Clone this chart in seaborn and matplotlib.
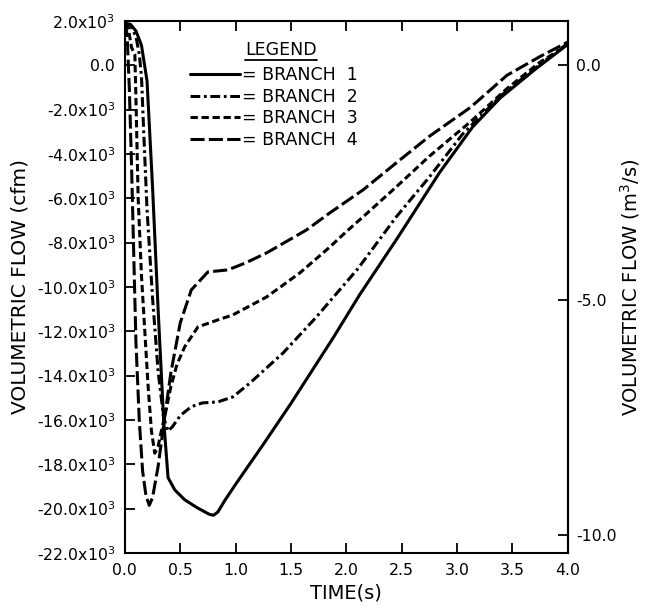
import numpy as np
import pandas as pd
import matplotlib
matplotlib.use("Agg")
import matplotlib.pyplot as plt
import seaborn as sns
from matplotlib.lines import Line2D

# ---------------- data ----------------
time_b1 = [0.0, 0.05, 0.1, 0.15, 0.2, 0.25, 0.3, 0.35, 0.39, 0.45, 0.54, 0.65, 0.76, 0.8,
           0.84, 0.9, 1.0, 1.25, 1.5, 1.88, 2.12, 2.46, 2.84, 3.14, 3.39, 3.7, 4.0]
flow_b1 = [1900, 1850, 1550, 900, -700, -5500, -11000, -16000, -18600, -19150, -19600,
           -19950, -20250, -20300, -20150, -19650, -18900, -17100, -15250, -12300, -10350,
           -7800, -4850, -2780, -1470, -200, 950]

time_b2 = [0.0, 0.05, 0.1, 0.13, 0.15, 0.17, 0.2, 0.25, 0.3, 0.35, 0.39, 0.43, 0.5, 0.6,
           0.7, 0.84, 0.975, 1.13, 1.43, 1.73, 1.85, 2.1, 2.45, 2.75, 3.05, 3.4, 3.7, 4.0]
flow_b2 = [1900, 1800, 1300, 500, -500, -3000, -6500, -10500, -13800, -15900, -16500,
           -16300, -15800, -15400, -15230, -15185, -14960, -14330, -12970, -11350, -10650,
           -9200, -6840, -5036, -3100, -1350, -150, 1000]

time_b3 = [0.0, 0.03, 0.06, 0.09, 0.1, 0.12, 0.15, 0.18, 0.21, 0.24, 0.27, 0.3, 0.325,
           0.37, 0.415, 0.47, 0.54, 0.66, 0.84, 0.975, 1.28, 1.58, 1.85, 2.0, 2.15, 2.45,
           2.75, 3.12, 3.45, 3.75, 4.0]
flow_b3 = [1900, 1700, 800, 500, -1500, -6000, -9500, -12000, -14500, -16500, -17500,
           -17200, -16600, -15600, -14500, -13500, -12700, -11800, -11485, -11260, -10450,
           -9365, -8200, -7500, -6840, -5487, -4100, -2550, -1050, 150, 920]

time_b4 = [0.0, 0.02, 0.04, 0.06, 0.08, 0.1, 0.13, 0.16, 0.19, 0.22, 0.25, 0.3, 0.36,
           0.415, 0.5, 0.6, 0.75, 0.93, 1.09, 1.28, 1.64, 1.85, 2.15, 2.45, 2.75, 3.12,
           3.45, 3.75, 4.0]
flow_b4 = [1900, 1400, -1000, -4500, -8500, -12500, -16000, -18300, -19400, -19850,
           -19500, -18100, -15860, -13875, -11620, -10130, -9320, -9230, -8914, -8463,
           -7426, -6660, -5622, -4404, -3200, -1900, -450, 400, 1050]

branch_labels = ["= BRANCH  1", "= BRANCH  2", "= BRANCH  3", "= BRANCH  4"]
legend_title = "LEGEND"

yticks = [2000, 0, -2000, -4000, -6000, -8000, -10000, -12000, -14000, -16000,
          -18000, -20000, -22000]
ytick_labels = ["2.0x10$^3$", "0.0", "-2.0x10$^3$", "-4.0x10$^3$", "-6.0x10$^3$",
                "-8.0x10$^3$", "-10.0x10$^3$", "-12.0x10$^3$", "-14.0x10$^3$",
                "-16.0x10$^3$", "-18.0x10$^3$", "-20.0x10$^3$", "-22.0x10$^3$"]
xticks = [0.0, 0.5, 1.0, 1.5, 2.0, 2.5, 3.0, 3.5, 4.0]
xtick_labels = ["0.0", "0.5", "1.0", "1.5", "2.0", "2.5", "3.0", "3.5", "4.0"]
right_ticks = [0.0, -5.0, -10.0]
right_tick_labels = ["0.0", "-5.0", "-10.0"]

CFM_TO_M3S = 0.00047194745

# ---------------- style ----------------
sns.set_style("ticks")
plt.rcParams["font.family"] = ["DejaVu Sans"]
plt.rcParams["mathtext.default"] = "regular"
for key in ["text.color", "axes.labelcolor", "xtick.color", "ytick.color",
            "xtick.labelcolor", "ytick.labelcolor", "axes.edgecolor"]:
    plt.rcParams[key] = "black"

fig = plt.figure(figsize=(6.47, 6.08), dpi=100)
ax = fig.add_axes([0.193, 0.0905, 0.6847, 0.875])

styles = ["-", (0, (3.2, 1.2, 0.9, 1.2)), (0, (2.4, 1.2)), (0, (4.6, 1.4))]
series = [(time_b1, flow_b1), (time_b2, flow_b2), (time_b3, flow_b3), (time_b4, flow_b4)]

for (t, v), ls, lab in zip(series, styles, branch_labels):
    df = pd.DataFrame({"time": t, "flow": v})
    sns.lineplot(data=df, x="time", y="flow", ax=ax, color="black", linewidth=2.2,
                 linestyle=ls, label=lab, estimator=None, sort=False)

ax.set_xlim(0, 4.0)
ax.set_ylim(-22000, 2000)
ax.set_xticks(xticks)
ax.set_xticklabels(xtick_labels)
ax.set_yticks(yticks)
ax.set_yticklabels(ytick_labels)
ax.tick_params(axis="both", direction="in", length=7, width=1.3, labelsize=11.3,
               colors="black", top=True, right=False)
ax.tick_params(axis="y", pad=7)
ax.tick_params(axis="x", pad=7)
for s in ax.spines.values():
    s.set_linewidth(1.5)
    s.set_color("black")

ax.set_xlabel("TIME(s)", fontsize=14, labelpad=4)
ax.set_ylabel("VOLUMETRIC FLOW (cfm)", fontsize=14.5, labelpad=5)

sec = ax.secondary_yaxis("right", functions=(lambda c: c * CFM_TO_M3S,
                                              lambda m: m / CFM_TO_M3S))
sec.set_yticks(right_ticks)
sec.set_yticklabels(right_tick_labels)
sec.tick_params(direction="in", length=7, width=1.3, labelsize=11.3, pad=6,
                colors="black")
sec.spines["right"].set_linewidth(1.5)
sec.set_ylabel("VOLUMETRIC FLOW (m$^3$/s)", fontsize=14, labelpad=1)

handles, labels = ax.get_legend_handles_labels()
leg = ax.legend(handles, labels, loc="upper left",
                bbox_to_anchor=(0.147, 0.915), frameon=False, fontsize=12.5,
                handlelength=2.9, handletextpad=0.1,
                labelspacing=0.2, borderpad=0, borderaxespad=0)
title = ax.text(0.352, 0.945, legend_title, transform=ax.transAxes, ha="center",
                va="center", fontsize=12.5, color="black")

# underline the legend title
fig.canvas.draw()
bb = title.get_window_extent()
inv = fig.transFigure.inverted()
(x0, y0) = inv.transform((bb.x0, bb.y0 - 1))
(x1, _) = inv.transform((bb.x1, bb.y0 - 1))
fig.add_artist(Line2D([x0, x1], [y0, y0], transform=fig.transFigure,
                      color="black", linewidth=1.3))

fig.savefig("out.png", dpi=100)
